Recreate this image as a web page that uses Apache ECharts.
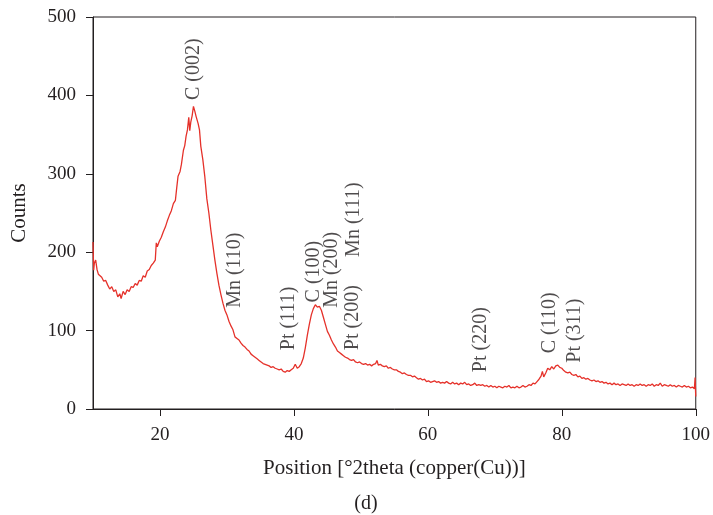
<!DOCTYPE html>
<html>
<head>
<meta charset="utf-8">
<script src="https://cdn.jsdelivr.net/npm/echarts@6/dist/echarts.min.js"></script>
<style>
html,body{margin:0;padding:0;background:#fff;}
#main{width:713px;height:515px;}
</style>
</head>
<body>
<div id="main"></div>
<script>
// XRD scan, [2theta, counts]
var scan=[
[10.0,213],[10.1,177],[10.2,186],[10.4,190],[10.6,178],[10.8,172],[11.0,170],[11.3,168],[11.6,163],[11.9,164],
[12.2,158],[12.5,153],[12.8,156],[13.1,150],[13.4,152],[13.7,143],[14.0,147],[14.2,141],[14.5,150],[14.8,146],
[15.1,152],[15.4,150],[15.7,156],[16.0,155],[16.3,160],[16.6,158],[16.9,164],[17.2,163],[17.5,170],[17.8,168],
[18.1,176],[18.4,178],[18.7,183],[19.0,186],[19.3,190],[19.45,212],[19.6,207],[19.9,214],[20.2,219],[20.5,226],
[20.8,232],[21.1,240],[21.4,247],[21.7,253],[22.0,262],[22.3,266],[22.5,282],[22.7,297],[23.0,303],[23.2,312],
[23.5,330],[23.7,336],[23.9,348],[24.1,356],[24.3,372],[24.45,355],[24.6,366],[24.8,374],[25.0,386],[25.2,380],
[25.4,373],[25.7,364],[25.9,356],[26.1,335],[26.4,318],[26.7,296],[27.0,268],[27.3,250],[27.6,228],[27.9,209],
[28.2,190],[28.5,173],[28.8,158],[29.1,146],[29.4,135],[29.7,126],[30.0,120],[30.3,112],[30.6,106],[30.9,101],
[31.2,92],[31.5,90],[31.8,88],[32.1,84],[32.4,81],[32.7,79],[33.0,76],[33.3,74],[33.6,70],[33.9,68],
[34.2,66],[34.5,64],[34.8,62],[35.1,60],[35.4,58],[35.7,57],[36.0,56],[36.3,55],[36.6,53],[36.9,54],
[37.2,52],[37.5,51],[37.8,50],[38.1,51],[38.4,48],[38.7,47],[39.0,49],[39.3,48],[39.6,50],[39.9,52],
[40.2,57],[40.5,52],[40.8,54],[41.1,58],[41.4,65],[41.7,78],[42.0,94],[42.3,108],[42.6,120],[42.9,128],
[43.2,133],[43.5,130],[43.8,131],[44.1,126],[44.4,117],[44.7,108],[45.0,99],[45.3,94],[45.6,88],[45.9,83],
[46.2,79],[46.5,74],[46.8,72],[47.1,70],[47.4,68],[47.7,66],[48.0,65],[48.3,63],[48.6,62],[48.9,63],
[49.2,60],[49.5,59],[49.8,60],[50.1,58],[50.4,57],[50.7,58],[51.0,56],[51.3,57],[51.6,55],[51.9,57],
[52.2,58],[52.4,62],[52.6,56],[52.9,57],[53.2,55],[53.5,54],[53.8,55],[54.1,52],[54.4,53],[54.7,51],
[55.0,50],[55.3,50],[55.6,48],[55.9,47],[56.2,45],[56.5,46],[56.8,44],[57.1,43],[57.4,43],[57.7,41],
[58.0,42],[58.3,40],[58.6,38],[58.9,39],[59.2,37],[59.5,38],[59.8,35],[60.1,36],[60.4,34],[60.7,35],
[61.0,36],[61.3,34],[61.6,35],[61.9,33],[62.2,34],[62.5,33],[62.8,35],[63.1,33],[63.4,32],[63.7,34],
[64.0,32],[64.3,33],[64.6,31],[64.9,33],[65.2,32],[65.5,34],[65.8,31],[66.1,32],[66.4,30],[66.7,31],
[67.0,33],[67.3,30],[67.6,31],[67.9,30],[68.2,31],[68.5,29],[68.8,30],[69.1,28],[69.4,30],[69.7,28],
[70.0,29],[70.3,27],[70.6,29],[70.9,28],[71.2,27],[71.5,29],[71.8,28],[72.1,30],[72.4,27],[72.7,28],
[73.0,27],[73.3,29],[73.6,27],[73.9,28],[74.2,30],[74.5,28],[74.8,29],[75.1,31],[75.4,30],[75.7,33],
[76.0,32],[76.3,35],[76.6,38],[76.9,42],[77.1,48],[77.3,41],[77.6,46],[77.9,52],[78.2,50],[78.5,54],
[78.8,51],[79.1,55],[79.4,56],[79.7,53],[80.0,52],[80.3,49],[80.6,47],[80.9,46],[81.2,47],[81.5,44],
[81.8,43],[82.1,44],[82.4,41],[82.7,42],[83.0,39],[83.3,40],[83.6,38],[83.9,39],[84.2,37],[84.5,36],
[84.8,37],[85.1,35],[85.4,36],[85.7,34],[86.0,35],[86.3,33],[86.6,34],[86.9,32],[87.2,33],[87.5,31],
[87.8,33],[88.1,31],[88.4,32],[88.7,30],[89.0,32],[89.3,31],[89.6,30],[89.9,32],[90.2,30],[90.5,31],
[90.8,29],[91.1,31],[91.4,30],[91.7,32],[92.0,30],[92.3,31],[92.6,29],[92.9,31],[93.2,30],[93.5,32],
[93.8,29],[94.1,31],[94.4,30],[94.7,33],[95.0,29],[95.3,31],[95.6,30],[95.9,29],[96.2,31],[96.5,29],
[96.8,30],[97.1,28],[97.4,30],[97.7,29],[98.0,28],[98.3,30],[98.6,28],[98.9,29],[99.2,27],[99.5,28],
[99.8,26],[99.9,40],[100.0,16]
];

// peak labels: text, 2theta, counts at the foot of the (vertical) text
var peakLabels=['C (002)','Mn (110)','Pt (111)','C (100)','Mn (200)','Pt (200)','Mn (111)','Pt (220)','C (110)','Pt (311)'];
var peakX=[25.0,31.1,39.3,43.0,45.6,48.8,49.0,67.9,78.2,81.9];
var peakY=[394,129,75,136,129,75,194,47,71,59];

var xTicks=[20,40,60,80,100];

var serif='"Liberation Serif","DejaVu Serif",serif';
var ink='#231f20';

var peaks=[];
for(var i=0;i<peakLabels.length;i++){
	peaks.push([peakX[i],peakY[i]]);
}

var myChart=echarts.init(document.getElementById('main'));
var option={
	animation:false,
	title:{
		text:'(d)',
		left:361,
		top:489,
		textAlign:'center',
		textStyle:{fontFamily:serif,fontSize:20,fontWeight:'normal',color:ink}
	},
	grid:{
		left:93,right:16,top:17,bottom:106,
		show:true,borderColor:ink,borderWidth:1
	},
	xAxis:{
		type:'value',
		min:10,max:100,
		name:'Position [°2theta (copper(Cu))]',
		nameLocation:'middle',
		nameGap:49,
		nameTextStyle:{fontFamily:serif,fontSize:21,color:ink},
		splitLine:{show:false},
		axisLine:{show:true,lineStyle:{color:ink,width:1}},
		axisTick:{show:true,length:7,customValues:xTicks,lineStyle:{color:ink}},
		axisLabel:{customValues:xTicks,margin:17,fontFamily:serif,fontSize:19,color:ink}
	},
	yAxis:{
		type:'value',
		min:0,max:500,interval:100,
		name:'Counts',
		nameLocation:'middle',
		nameGap:63,
		nameTextStyle:{fontFamily:serif,fontSize:21,color:ink},
		splitLine:{show:false},
		axisLine:{show:true,lineStyle:{color:ink,width:1}},
		axisTick:{show:true,length:7,lineStyle:{color:ink}},
		axisLabel:{margin:17,fontFamily:serif,fontSize:19,color:ink}
	},
	series:[
		{
			name:'scan',
			type:'line',
			data:scan,
			showSymbol:false,
			symbol:'none',
			lineStyle:{color:'#e5312a',width:1.3},
			z:3
		},
		{
			name:'peaks',
			type:'scatter',
			data:peaks,
			symbolSize:1,
			itemStyle:{color:'rgba(0,0,0,0)'},
			label:{
				show:true,
				position:'inside',
				rotate:90,
				align:'left',
				verticalAlign:'middle',
				fontFamily:serif,
				fontSize:20,
				color:ink,
				formatter:function(p){return peakLabels[p.dataIndex];}
			},
			z:4
		}
	]
};
myChart.setOption(option);
window.onresize=myChart.resize;
</script>
</body>
</html>
